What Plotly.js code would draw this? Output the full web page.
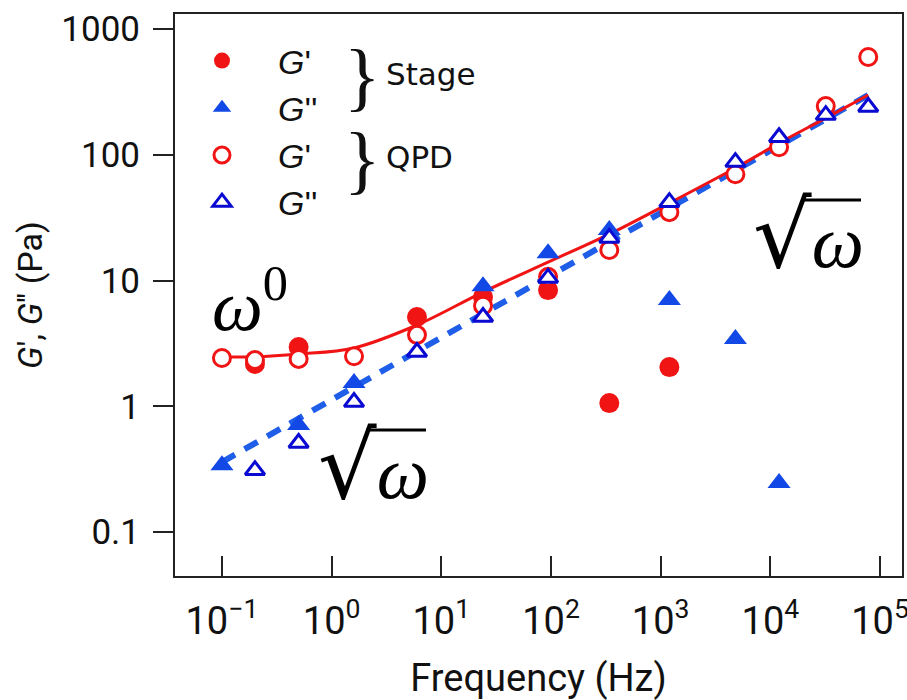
<!DOCTYPE html>
<html>
<head>
<meta charset="utf-8">
<script src="https://cdn.plot.ly/plotly-3.0.1.min.js"></script>
<style>html,body{margin:0;padding:0;background:#fff;}#chart{width:907px;height:700px;}</style>
</head>
<body>
<div id="chart"></div>
<script>
// ---- data ----
const stageGpFreq = [0.2, 0.5, 6, 24, 94, 340, 1200];
const stageGpVal  = [2.17, 2.96, 5.13, 7.39, 8.4, 1.06, 2.05];

const stageGppFreq = [0.1, 0.5, 1.6, 24, 94, 340, 1200, 4800, 12000];
const stageGppVal  = [0.34, 0.71, 1.53, 9.0, 16.5, 25.2, 7.0, 3.43, 0.245];

const qpdGpFreq = [0.1, 0.2, 0.5, 1.6, 6, 24, 94, 340, 1200, 4800, 12000, 32000, 78000];
const qpdGpVal  = [2.42, 2.33, 2.38, 2.5, 3.7, 6.3, 10.7, 17.5, 35, 70, 115, 244, 600];

const qpdGppFreq = [0.2, 0.5, 1.6, 6, 24, 94, 340, 1200, 4800, 12000, 32000, 78000];
const qpdGppVal  = [0.31, 0.51, 1.08, 2.7, 5.13, 10.5, 21.8, 42, 87.5, 138, 207, 240];

const fitGpFreq = [0.1, 0.2, 0.5, 1.6, 6, 24, 94, 340, 1200, 4800, 12000, 32000, 78000];
const fitGpVal  = [2.47, 2.47, 2.6, 2.91, 4.43, 8.1, 14.0, 23.4, 41.3, 78.5, 124, 196, 299];

const fitGppFreq = [0.1, 94, 78000];
const fitGppVal  = [0.36, 10.7, 299];

const xTickVals = [0.1, 1, 10, 100, 1000, 10000, 100000];
const xTickText = ['10<sup>−1</sup>', '10<sup>0</sup>', '10<sup>1</sup>', '10<sup>2</sup>', '10<sup>3</sup>', '10<sup>4</sup>', '10<sup>5</sup>'];
const yTickVals = [0.1, 1, 10, 100, 1000];
const yTickText = ['0.1', '1', '10', '100', '1000'];

const legendNames = ["<i>G</i>'", "<i>G</i>''", "<i>G</i>'", "<i>G</i>''"];
const groupLabels = ['Stage', 'QPD'];

// ---- styles ----
const RED = '#f01414';
const BLUE_FILL = '#1148e6';
const BLUE_OPEN = '#0a0ad2';
const BLUE_LINE = '#1f5ee8';

const traces = [
  {x: fitGppFreq, y: fitGppVal, mode: 'lines', showlegend: false, hoverinfo: 'skip',
   line: {color: BLUE_LINE, width: 6, dash: '15px,11px'}},
  {x: fitGpFreq, y: fitGpVal, mode: 'lines', showlegend: false, hoverinfo: 'skip',
   line: {color: RED, width: 3, shape: 'spline'}},
  {x: stageGpFreq, y: stageGpVal, mode: 'markers', name: legendNames[0],
   marker: {symbol: 'circle', size: 20, color: RED}},
  {x: stageGppFreq, y: stageGppVal, mode: 'markers', name: legendNames[1],
   marker: {symbol: 'triangle-up', size: 20, color: BLUE_FILL}},
  {x: qpdGpFreq, y: qpdGpVal, mode: 'markers', name: legendNames[2],
   marker: {symbol: 'circle', size: 17, color: '#ffffff', line: {color: RED, width: 3}}},
  {x: qpdGppFreq, y: qpdGppVal, mode: 'markers', name: legendNames[3],
   marker: {symbol: 'triangle-up', size: 17, color: '#ffffff', line: {color: BLUE_OPEN, width: 3}}}
];

const L = 175, R = 902, T = 14, B = 576;
const px = v => (v - L) / (R - L);
const py = v => (B - v) / (B - T);

const SANS = 'Roboto, "Liberation Sans", sans-serif';

// square-root labels: text left x, centre y, overline [x0, x1, y] in pixels
const roots = [
  {rx: 316, cy: 466, bar: [366, 426, 430]},
  {rx: 751, cy: 236, bar: [801, 861, 200]}
];

const annotations = [
  {xref: 'paper', yref: 'paper', x: px(342), y: py(76), text: '}', showarrow: false,
   font: {size: 76, family: '"Liberation Serif", serif', color: '#111'}, xanchor: 'left', yanchor: 'middle'},
  {xref: 'paper', yref: 'paper', x: px(384), y: py(74), text: groupLabels[0], showarrow: false,
   font: {size: 31, family: '"DejaVu Sans", sans-serif', color: '#111'}, xanchor: 'left', yanchor: 'middle'},
  {xref: 'paper', yref: 'paper', x: px(342), y: py(159), text: '}', showarrow: false,
   font: {size: 76, family: '"Liberation Serif", serif', color: '#111'}, xanchor: 'left', yanchor: 'middle'},
  {xref: 'paper', yref: 'paper', x: px(384), y: py(157), text: groupLabels[1], showarrow: false,
   font: {size: 31, family: '"DejaVu Sans", sans-serif', color: '#111'}, xanchor: 'left', yanchor: 'middle'},
  {xref: 'paper', yref: 'paper', x: px(210), y: py(300), text: '<i>ω</i><sup>0</sup>', showarrow: false,
   font: {size: 72, family: '"Liberation Serif", serif', color: '#000'}, xanchor: 'left', yanchor: 'middle'}
];
const shapes = [];
roots.forEach(r => {
  annotations.push({xref: 'paper', yref: 'paper', x: px(r.rx), y: py(r.cy),
    text: '<span style="font-family:\'DejaVu Serif\',serif;font-size:92px">√</span><i>ω</i>', showarrow: false,
    font: {size: 74, family: '"Liberation Serif", serif', color: '#000'}, xanchor: 'left', yanchor: 'middle'});
  shapes.push({type: 'line', xref: 'paper', yref: 'paper', x0: px(r.bar[0]), x1: px(r.bar[1]),
    y0: py(r.bar[2]), y1: py(r.bar[2]), line: {color: '#000', width: 3}});
});

const layout = {
  width: 907, height: 700,
  margin: {l: L, r: 907 - R, t: T, b: 700 - B},
  paper_bgcolor: '#ffffff', plot_bgcolor: '#ffffff',
  font: {family: SANS, color: '#111'},
  xaxis: {
    type: 'log', range: [-1.428, 5.2],
    tickvals: xTickVals, ticktext: xTickText,
    ticks: 'inside', ticklen: 20, tickwidth: 2, tickcolor: '#222',
    showline: true, linecolor: '#222', linewidth: 2, mirror: true,
    showgrid: false, zeroline: false,
    tickfont: {size: 38, family: SANS, color: '#111'},
    ticklabelstandoff: 10, ticklabeloverflow: 'allow',
    title: {text: 'Frequency (Hz)', font: {size: 38, family: SANS, color: '#111'}, standoff: 28}
  },
  yaxis: {
    type: 'log', range: [-1.35, 3.12],
    tickvals: yTickVals, ticktext: yTickText,
    ticks: 'outside', ticklen: 20, tickwidth: 2, tickcolor: '#222',
    showline: true, linecolor: '#222', linewidth: 2, mirror: true,
    showgrid: false, zeroline: false,
    tickfont: {size: 35, family: SANS, color: '#111'},
    ticklabelstandoff: 6,
    title: {text: "<i>G</i>', <i>G</i>'' (Pa)", font: {size: 34, family: SANS, color: '#111'}, standoff: 8}
  },
  showlegend: true,
  legend: {
    x: px(166), y: py(32), xanchor: 'left', yanchor: 'top',
    bgcolor: 'rgba(0,0,0,0)', borderwidth: 0,
    font: {size: 34, family: '"Liberation Sans", sans-serif', color: '#111'},
    itemwidth: 102, tracegroupgap: 0, itemclick: false
  },
  annotations: annotations,
  shapes: shapes
};

Plotly.newPlot('chart', traces, layout, {displayModeBar: false, staticPlot: true});
</script>
</body>
</html>
